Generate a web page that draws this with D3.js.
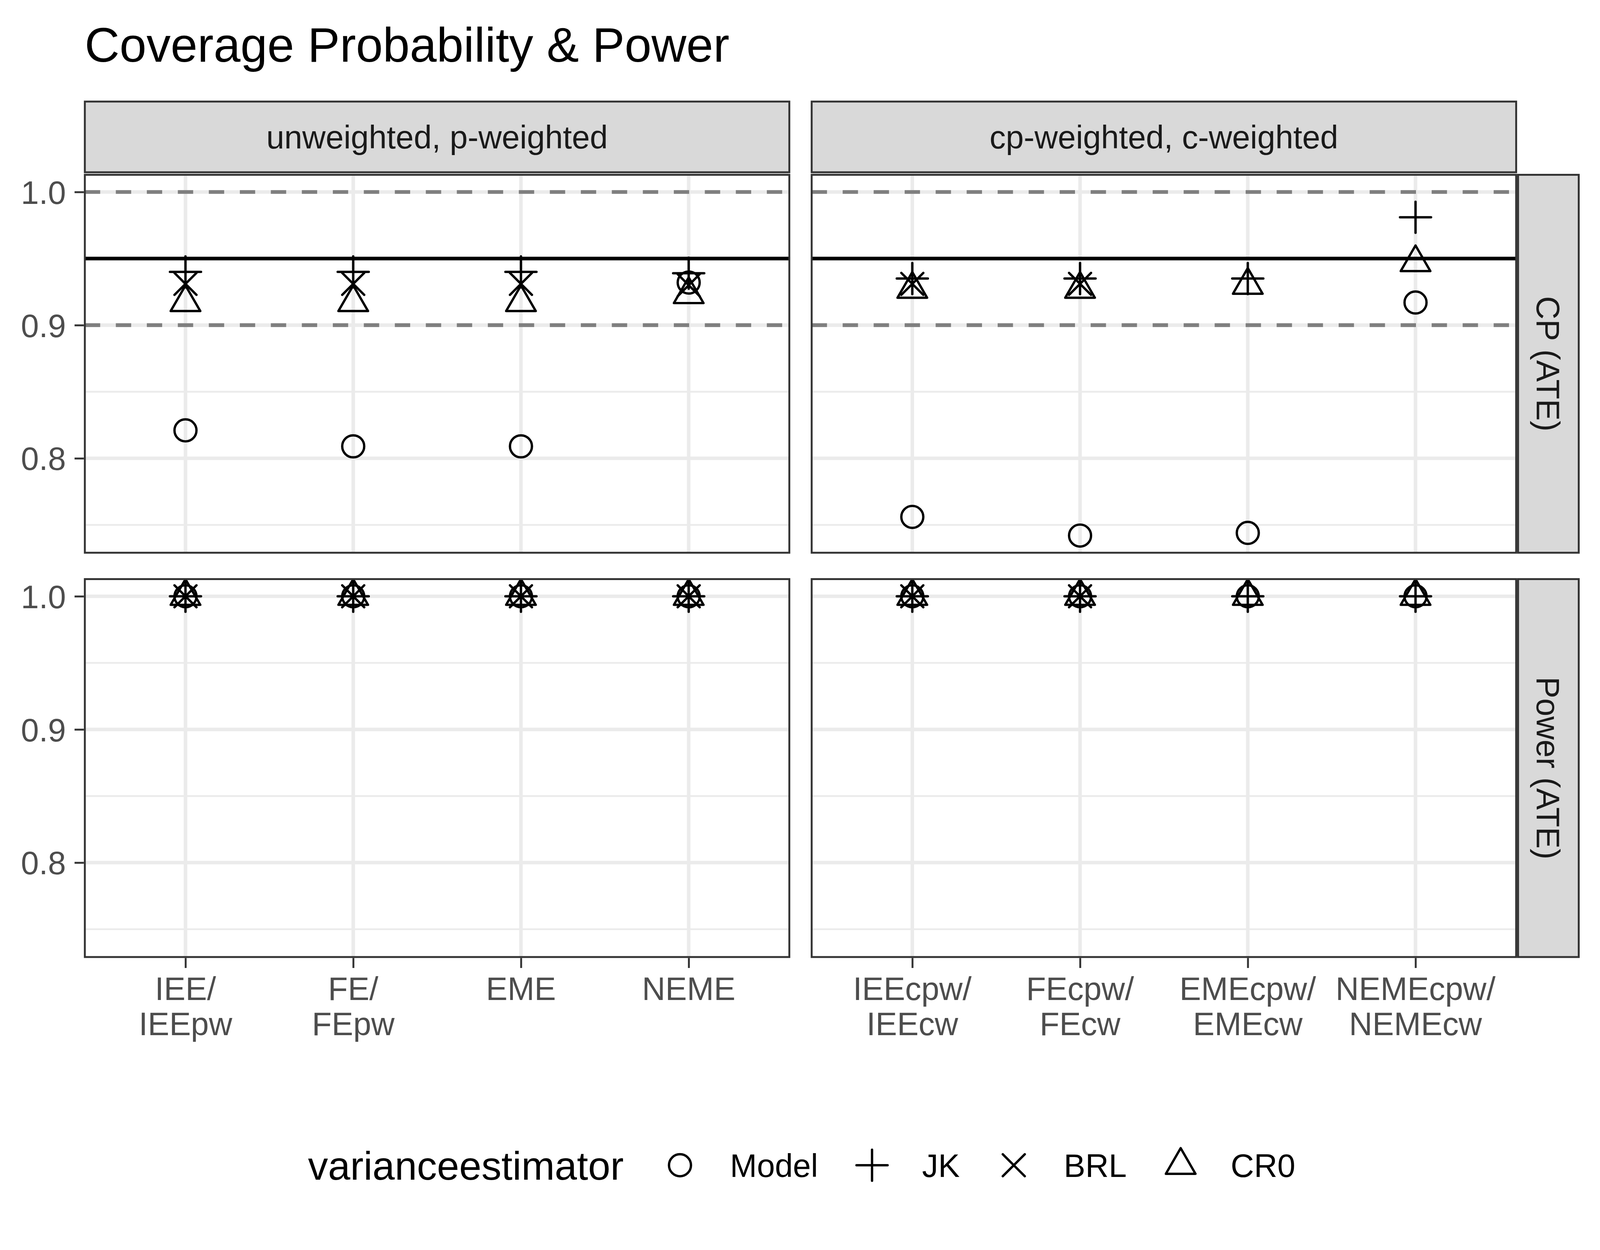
<!DOCTYPE html>
<html>
<head>
<meta charset="utf-8">
<script src="https://cdn.jsdelivr.net/npm/d3@7"></script>
<style>
  html, body { margin: 0; padding: 0; background: #ffffff; overflow: hidden; }
  svg { display: block; }
</style>
</head>
<body>
<script>
// ---------------- DATA ----------------
const chartTitle = "Coverage Probability & Power";
const colLabels = ["unweighted, p-weighted", "cp-weighted, c-weighted"];
const rowLabels = ["CP (ATE)", "Power (ATE)"];
const catsLeft = ["IEE/\nIEEpw", "FE/\nFEpw", "EME", "NEME"];
const catsRight = ["IEEcpw/\nIEEcw", "FEcpw/\nFEcw", "EMEcpw/\nEMEcw", "NEMEcpw/\nNEMEcw"];
const estimators = ["Model", "JK", "BRL", "CR0"];
const estimatorShapes = ["circle", "plus", "cross", "triangle"];
const legendTitle = "varianceestimator";

// values per estimator, in category order (null = not present)
const cpLeft = {
  Model: [0.821, 0.809, 0.809, 0.932],
  JK:    [0.940, 0.940, 0.940, 0.939],
  BRL:   [0.931, 0.931, 0.931, 0.930],
  CR0:   [0.917, 0.917, 0.917, 0.923]
};
const cpRight = {
  Model: [0.756, 0.742, 0.744, 0.917],
  JK:    [0.935, 0.935, 0.935, 0.981],
  BRL:   [0.931, 0.931, null, null],
  CR0:   [0.927, 0.927, 0.930, 0.947]
};
const powerLeft = {
  Model: [1.0, 1.0, 1.0, 1.0],
  JK:    [1.0, 1.0, 1.0, 1.0],
  BRL:   [1.0, 1.0, 1.0, 1.0],
  CR0:   [1.0, 1.0, 1.0, 1.0]
};
const powerRight = {
  Model: [1.0, 1.0, 1.0, 1.0],
  JK:    [1.0, 1.0, 1.0, 1.0],
  BRL:   [1.0, 1.0, null, null],
  CR0:   [1.0, 1.0, 1.0, 1.0]
};
const yMajorTicks = [0.8, 0.9, 1.0];
const yMinorTicks = [0.75, 0.85, 0.95];
const refSolid = [0.95];
const refDashed = [0.9, 1.0];

// ---------------- LAYOUT (designed for 4800x3200, adapted to the actual viewport) ----------------
const W = 4800, H = 3200;
const vw = window.innerWidth || W, vh = window.innerHeight || H;
const sx = vw / W, sy = vh / H, s = Math.min(sx, sy);
const X = v => v * sx, Y = v => v * sy, S = v => v * s;

const FONT = "'Liberation Sans', Arial, Helvetica, sans-serif";
const colX = [[254.5, 2368], [2435, 4548.5]];
const rowY = [[447.5, 1415], [1482.5, 2450]];
const stripTop = [260, 441];
const stripRight = [4554, 4736];
const borderW = S(5.7);
const majorW = S(10.7), minorW = S(5.4);
const gridCol = "#EBEBEB";
const R = S(33), markStroke = S(7);
const axisFont = S(97), stripFont = S(97), titleFont = S(145), legTitleFont = S(120), legFont = S(97);

const panels = [
  { r: 0, c: 0, cats: catsLeft,  data: cpLeft,     refs: true },
  { r: 0, c: 1, cats: catsRight, data: cpRight,    refs: true },
  { r: 1, c: 0, cats: catsLeft,  data: powerLeft,  refs: false },
  { r: 1, c: 1, cats: catsRight, data: powerRight, refs: false }
];

// y domain from all data with 5% expansion
const allVals = [];
panels.forEach(p => estimators.forEach(e => p.data[e].forEach(v => { if (v != null) allVals.push(v); })));
const yMin = d3.min(allVals), yMax = d3.max(allVals);
const yExp = (yMax - yMin) * 0.05;
const yDomain = [yMin - yExp, yMax + yExp];

const svg = d3.select("body").append("svg")
  .attr("width", vw).attr("height", vh)
  .style("font-family", FONT);

svg.append("rect").attr("width", vw).attr("height", vh).attr("fill", "#ffffff");

function markerPath(shape) {
  const p = d3.path();
  if (shape === "plus") {
    const a = R * Math.SQRT2;
    p.moveTo(-a, 0); p.lineTo(a, 0); p.moveTo(0, -a); p.lineTo(0, a);
  } else if (shape === "cross") {
    p.moveTo(-R, -R); p.lineTo(R, R); p.moveTo(-R, R); p.lineTo(R, -R);
  } else if (shape === "triangle") {
    const t = 1.555 * R;
    p.moveTo(0, -t); p.lineTo(t * Math.sqrt(3) / 2, t / 2); p.lineTo(-t * Math.sqrt(3) / 2, t / 2); p.closePath();
  } else {
    p.arc(0, 0, R, 0, 2 * Math.PI); p.closePath();
  }
  return p.toString();
}

function drawMarker(g, shape, x, y) {
  g.append("path")
    .attr("d", markerPath(shape))
    .attr("transform", `translate(${x},${y})`)
    .attr("fill", "none")
    .attr("stroke", "#000000")
    .attr("stroke-width", markStroke)
    .attr("stroke-linecap", "round")
    .attr("stroke-linejoin", "round");
}

const defs = svg.append("defs");

panels.forEach((p, i) => {
  const x0 = X(colX[p.c][0]), x1 = X(colX[p.c][1]);
  const y0 = Y(rowY[p.r][0]), y1 = Y(rowY[p.r][1]);
  const x = d3.scalePoint().domain(p.cats).range([x0, x1]).padding(0.6);
  const y = d3.scaleLinear().domain(yDomain).range([y1, y0]);

  defs.append("clipPath").attr("id", "clip" + i)
    .append("rect").attr("x", x0).attr("y", y0).attr("width", x1 - x0).attr("height", y1 - y0);

  const g = svg.append("g").attr("clip-path", `url(#clip${i})`);
  g.append("rect").attr("x", x0).attr("y", y0).attr("width", x1 - x0).attr("height", y1 - y0).attr("fill", "#ffffff");

  g.selectAll(".ymin").data(yMinorTicks).enter().append("line")
    .attr("x1", x0).attr("x2", x1).attr("y1", d => y(d)).attr("y2", d => y(d))
    .attr("stroke", gridCol).attr("stroke-width", minorW);
  g.selectAll(".ymaj").data(yMajorTicks).enter().append("line")
    .attr("x1", x0).attr("x2", x1).attr("y1", d => y(d)).attr("y2", d => y(d))
    .attr("stroke", gridCol).attr("stroke-width", majorW);
  g.selectAll(".xmaj").data(p.cats).enter().append("line")
    .attr("x1", d => x(d)).attr("x2", d => x(d)).attr("y1", y0).attr("y2", y1)
    .attr("stroke", gridCol).attr("stroke-width", majorW);

  if (p.refs) {
    refDashed.forEach(v => {
      g.append("line").attr("x1", x0).attr("x2", x1).attr("y1", y(v)).attr("y2", y(v))
        .attr("stroke", "#7F7F7F").attr("stroke-width", S(11.3))
        .attr("stroke-dasharray", `${S(46)} ${S(47)}`);
    });
    refSolid.forEach(v => {
      g.append("line").attr("x1", x0).attr("x2", x1).attr("y1", y(v)).attr("y2", y(v))
        .attr("stroke", "#000000").attr("stroke-width", S(10.7));
    });
  }

  estimators.forEach((e, k) => {
    p.data[e].forEach((v, j) => {
      if (v == null) return;
      drawMarker(g, estimatorShapes[k], x(p.cats[j]), y(v));
    });
  });

  svg.append("rect").attr("x", x0).attr("y", y0).attr("width", x1 - x0).attr("height", y1 - y0)
    .attr("fill", "none").attr("stroke", "#333333").attr("stroke-width", borderW);

  if (p.c === 0) {
    const ax = svg.append("g").attr("transform", `translate(${x0 - borderW / 2},0)`)
      .call(d3.axisLeft(y).tickValues(yMajorTicks).tickFormat(d3.format(".1f")).tickSize(S(28)).tickPadding(S(26)));
    ax.select(".domain").remove();
    ax.selectAll(".tick line").attr("stroke", "#333333").attr("stroke-width", borderW);
    ax.selectAll(".tick text").attr("fill", "#4D4D4D").attr("font-size", axisFont)
      .attr("font-family", FONT).attr("dy", "0.358em");
  }
  if (p.r === 1) {
    const tickLen = S(30);
    const ax = svg.append("g").attr("transform", `translate(0,${y1 + borderW / 2})`)
      .call(d3.axisBottom(x).tickSize(tickLen).tickFormat(""));
    ax.select(".domain").remove();
    ax.selectAll(".tick line").attr("stroke", "#333333").attr("stroke-width", borderW);
    ax.selectAll(".tick text").remove();
    const firstBase = y1 + borderW / 2 + tickLen + S(96);
    p.cats.forEach(cat => {
      const lines = cat.split("\n");
      const t = svg.append("text").attr("text-anchor", "middle").attr("fill", "#4D4D4D")
        .attr("font-size", axisFont).attr("font-family", FONT);
      lines.forEach((ln, li) => {
        t.append("tspan").attr("x", x(cat)).attr("y", firstBase + li * S(106)).text(ln);
      });
    });
  }
});

colLabels.forEach((lab, c) => {
  const x0 = X(colX[c][0]), x1 = X(colX[c][1]);
  const t0 = Y(stripTop[0]), t1 = Y(stripTop[1]);
  svg.append("rect").attr("x", x0).attr("y", t0).attr("width", x1 - x0).attr("height", t1 - t0)
    .attr("fill", "#D9D9D9").attr("stroke", "#333333").attr("stroke-width", borderW);
  svg.append("text").attr("x", (x0 + x1) / 2).attr("y", (t0 + t1) / 2 + 0.358 * stripFont)
    .attr("text-anchor", "middle").attr("fill", "#1A1A1A").attr("font-size", stripFont).text(lab);
});
rowLabels.forEach((lab, r) => {
  const y0 = Y(rowY[r][0]), y1 = Y(rowY[r][1]);
  const sL = X(4548.5) + borderW, sR = sL + S(182);
  svg.append("rect").attr("x", sL).attr("y", y0).attr("width", sR - sL).attr("height", y1 - y0)
    .attr("fill", "#D9D9D9").attr("stroke", "#333333").attr("stroke-width", borderW);
  const cx = (sL + sR) / 2, cy = (y0 + y1) / 2;
  svg.append("text").attr("transform", `translate(${cx},${cy}) rotate(90)`)
    .attr("x", 0).attr("y", 0.358 * stripFont)
    .attr("text-anchor", "middle").attr("fill", "#1A1A1A").attr("font-size", stripFont).text(lab);
});

svg.append("text").attr("x", X(254)).attr("y", Y(114) + 0.358 * titleFont).attr("fill", "#000000")
  .attr("font-size", titleFont).text(chartTitle);

const legY = Y(2983);
const leg = svg.append("g");
const titleEl = leg.append("text").attr("x", 0).attr("y", legY + 0.358 * legTitleFont)
  .attr("font-size", legTitleFont).attr("fill", "#000000").text(legendTitle);
let cursor = titleEl.node().getComputedTextLength() + S(169);
estimators.forEach((e, k) => {
  drawMarker(leg, estimatorShapes[k], cursor, legY);
  const t = leg.append("text").attr("x", cursor + S(150)).attr("y", legY + 0.358 * legFont)
    .attr("font-size", legFont).attr("fill", "#000000").text(e);
  cursor = cursor + S(150) + t.node().getComputedTextLength();
  if (k < estimators.length - 1) cursor += S(162);
});
const legWidth = cursor;
leg.attr("transform", `translate(${vw / 2 - legWidth / 2 + S(5)},0)`);
</script>
</body>
</html>
